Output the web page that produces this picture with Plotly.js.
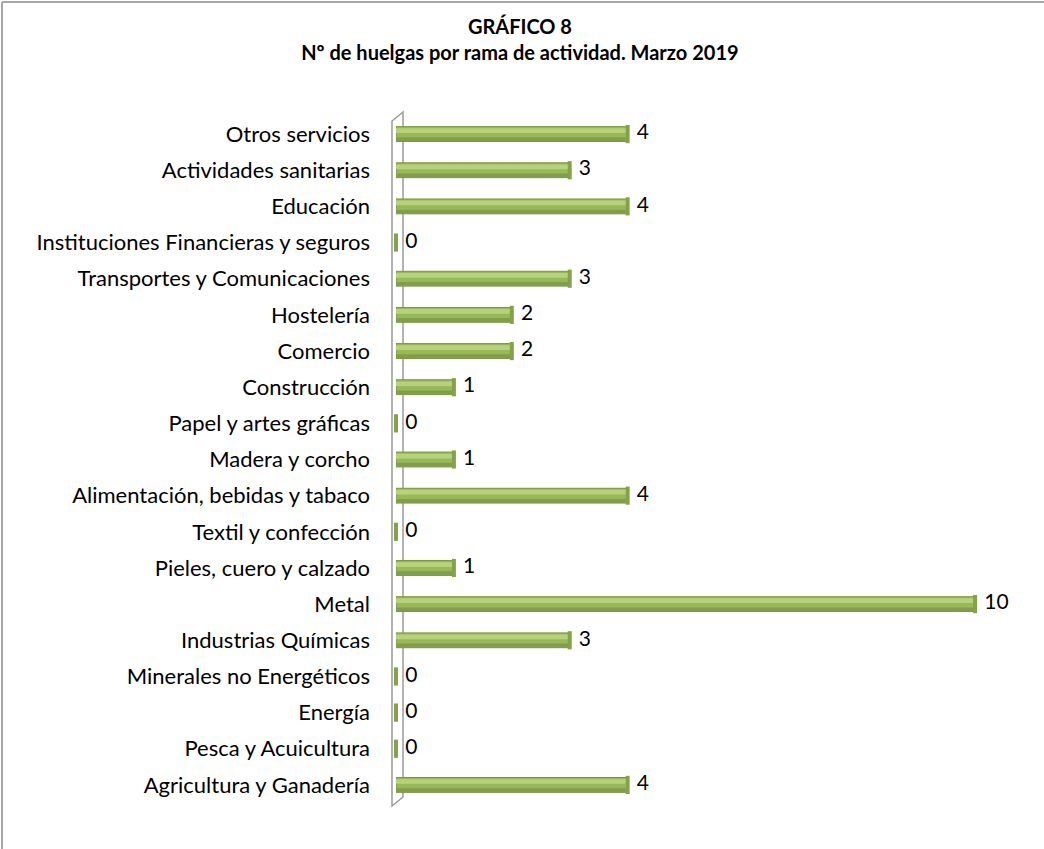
<!DOCTYPE html>
<html>
<head>
<meta charset="utf-8">
<script src="https://cdn.plot.ly/plotly-3.0.1.min.js"></script>
<style>html,body{margin:0;padding:0;background:#fff;}#chart{width:1044px;height:849px;}</style>
</head>
<body>
<div id="chart"></div>
<script>
// Data (bottom to top as drawn)
const categories = [
  "Agricultura y Ganadería",
  "Pesca y Acuicultura",
  "Energía",
  "Minerales no Energéticos",
  "Industrias Químicas",
  "Metal",
  "Pieles, cuero y calzado",
  "Textil y confección",
  "Alimentación, bebidas y tabaco",
  "Madera y corcho",
  "Papel y artes gráficas",
  "Construcción",
  "Comercio",
  "Hostelería",
  "Transportes y Comunicaciones",
  "Instituciones Financieras y seguros",
  "Educación",
  "Actividades sanitarias",
  "Otros servicios"
];
const values = [4, 0, 0, 0, 3, 10, 1, 0, 4, 1, 0, 1, 2, 2, 3, 0, 4, 3, 4];
const valueLabels = values.map(v => String(v));
const titleLines = ["GRÁFICO 8", "Nº de huelgas por rama de actividad. Marzo 2019"];

const FONT = "Lato, 'Liberation Sans', sans-serif";
const W = 1044, H = 849;
const L = 396, R = 11, T = 116, B = 46;
const PW = W - L - R, PH = H - T - B;
const px = x => (x - L) / PW;
const py = y => 1 - (y - T) / PH;

const base = {
  type: "bar", orientation: "h", x: values, y: categories,
  width: 0.41,
  marker: {color: "#98b95a", line: {color: "#789440", width: 1}},
  hoverinfo: "skip", showlegend: false
};
const shade = {
  type: "bar", orientation: "h", x: values, y: categories,
  width: 0.11, offset: -0.2,
  marker: {color: "#819f47", line: {width: 0}},
  hoverinfo: "skip", showlegend: false
};
const shine = {
  type: "bar", orientation: "h", x: values, y: categories,
  width: 0.13, offset: 0.03,
  marker: {color: "#b7d27c", line: {width: 0}},
  hoverinfo: "skip", showlegend: false
};
const caps = {
  type: "scatter", mode: "markers+text", x: values, y: categories,
  text: valueLabels, textposition: "middle right",
  textfont: {family: FONT, size: 21, color: "#000"},
  marker: {symbol: "line-ns", size: 13, line: {width: 4, color: "#84a349"}},
  cliponaxis: false, hoverinfo: "skip", showlegend: false
};

function path(pts) {
  return "M " + pts.map(p => px(p[0]).toFixed(5) + "," + py(p[1]).toFixed(5)).join(" L ") + " Z";
}

const layout = {
  width: W, height: H,
  paper_bgcolor: "#fff", plot_bgcolor: "rgba(0,0,0,0)",
  margin: {l: L, r: R, t: T, b: B},
  barmode: "overlay",
  title: {
    text: "<b>" + titleLines.join("</b><br><b>") + "</b>",
    font: {family: FONT, size: 20, color: "#000"},
    x: 0.498, xref: "container", xanchor: "center",
    y: 0.960, yref: "container", yanchor: "top"
  },
  xaxis: {range: [0, 11], visible: false, showgrid: false, zeroline: false, fixedrange: true},
  yaxis: {
    type: "category", categoryorder: "array", categoryarray: categories,
    range: [-0.5, categories.length - 0.5],
    showgrid: false, zeroline: false, showline: false, ticks: "",
    ticklabelstandoff: 25,
    tickfont: {family: FONT, size: 22, color: "#000"}
  },
  shapes: [
    {type: "path", xref: "paper", yref: "paper", layer: "below",
     path: path([[392, 121], [403, 112], [403, 797], [392, 806]]),
     fillcolor: "#ffffff", line: {color: "#9a9a9a", width: 1.5}},
    {type: "line", xref: "paper", yref: "paper", x0: px(2), y0: py(849), x1: px(2), y1: py(2),
     line: {color: "#a6a6a6", width: 2}},
    {type: "line", xref: "paper", yref: "paper", x0: px(2), y0: py(2), x1: px(1044), y1: py(2),
     line: {color: "#a6a6a6", width: 2}}
  ]
};

Plotly.newPlot("chart", [base, shade, shine, caps], layout, {displayModeBar: false, staticPlot: true});
</script>
</body>
</html>
